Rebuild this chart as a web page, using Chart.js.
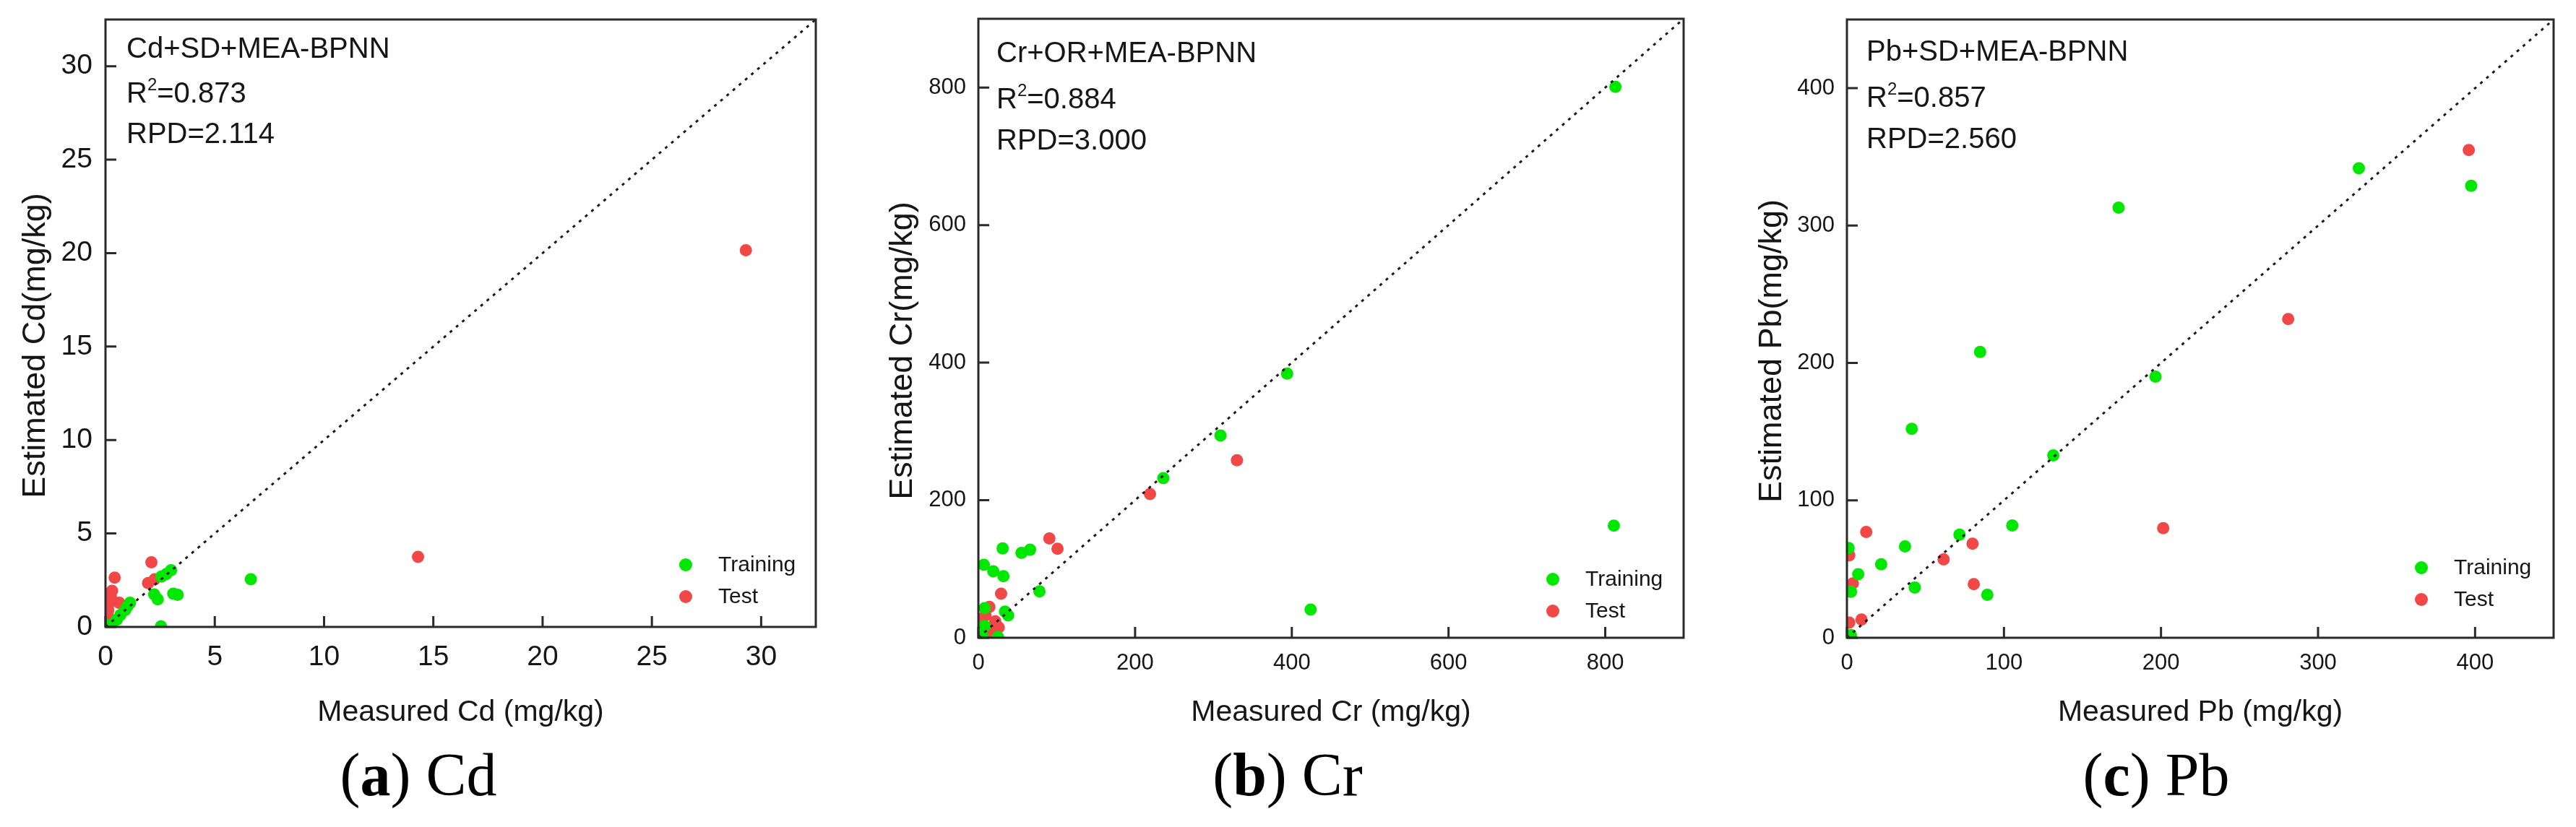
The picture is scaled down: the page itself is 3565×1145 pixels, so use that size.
<!DOCTYPE html>
<html><head><meta charset="utf-8">
<script src="https://cdn.jsdelivr.net/npm/chart.js@4.4.1/dist/chart.umd.min.js"></script>
<style>
html,body{margin:0;padding:0;background:#fff;width:3565px;height:1145px;overflow:hidden}
.panel{position:absolute;top:0;height:1145px}
.cap{position:absolute;top:1033px;font-family:'Liberation Serif','Times New Roman',serif;font-size:84px;line-height:80px;color:#000;white-space:nowrap;transform:translateX(-50%)}
</style></head><body>
<div class="panel" style="left:0;width:1180px"><canvas id="ca" width="1180" height="1145"></canvas></div>
<div class="panel" style="left:1180px;width:1185px"><canvas id="cb" width="1185" height="1145"></canvas></div>
<div class="panel" style="left:2365px;width:1200px"><canvas id="cc" width="1200" height="1145"></canvas></div>
<div class="cap" style="left:579px">(<b>a</b>) Cd</div>
<div class="cap" style="left:1782px">(<b>b</b>) Cr</div>
<div class="cap" style="left:2984px">(<b>c</b>) Pb</div>
<script>
// ---------- data (measured, estimated) ----------
const cdTraining = [[6.65,2.55],[3.1,1.78],[3.3,1.72],[2.23,1.74],[2.39,1.48],[2.56,2.7],[2.78,2.83],[3.0,3.03],[2.54,0.03],[1.12,1.29],[1.0,1.1],[0.9,0.9],[0.68,0.64],[0.52,0.39],[0.3,0.13],[0.15,0.1]];
const cdTest = [[29.3,20.15],[14.3,3.75],[2.1,3.46],[1.95,2.35],[2.25,2.55],[0.42,2.64],[0.3,1.93],[0.63,1.29],[0.19,1.3],[0.13,0.9],[0.13,0.52],[0.08,0.19],[0.25,1.6]];
const crTraining = [[813,801],[811,163],[394,384],[309,294],[236,232],[424,41],[78,67.5],[31,130],[55,123.5],[66,128],[7,106],[19,96.5],[32,89.5],[8,43],[34,38],[38,32.5],[8,17],[25,1],[5,3]];
const crTest = [[330,258],[219,209],[90.6,144.5],[101,129.4],[29,64],[14,45],[9,32.5],[21.5,24],[17,13],[26,15],[12,6],[5,28]];
const pbTraining = [[397.5,329],[326,341.7],[173,313],[84.8,208],[196.5,190],[41.3,152],[131.4,132.7],[105.3,81.7],[71.7,75],[37,66.5],[21.8,53.5],[7.2,46.3],[43.2,36.6],[89.4,31.3],[2.6,33.5],[1.1,65.3],[2.5,2]];
const pbTest = [[396,355],[281,232],[201.4,79.8],[12.3,77],[80,68.5],[61.6,57],[80.8,39],[3.8,39.6],[1.5,60],[1.5,11],[9.3,13.3]];
const axisMax = {Cd:32.5, Cr:900, Pb:450};
const tickStep = {Cd:5, Cr:200, Pb:100};
const modelNames = {Cd:'Cd+SD+MEA-BPNN', Cr:'Cr+OR+MEA-BPNN', Pb:'Pb+SD+MEA-BPNN'};
const r2Values = {Cd:'0.873', Cr:'0.884', Pb:'0.857'};
const rpdValues = {Cd:'2.114', Cr:'3.000', Pb:'2.560'};
const seriesNames = ['Training','Test'];

const GREEN = '#00e800', RED = '#f24747', INK = '#161616';
const FAM = "'Liberation Sans', Arial, sans-serif";
const toXY = a => a.map(p => ({x:p[0], y:p[1]}));

const framePlugin = {
  id:'frame',
  afterDatasetsDraw(chart, args, o){
    const {ctx, chartArea:a, scales:{x,y}} = chart;
    ctx.save();
    ctx.strokeStyle = '#2a2a2a'; ctx.lineWidth = 3;
    ctx.strokeRect(a.left, a.top, a.right-a.left, a.bottom-a.top);
    ctx.beginPath();
    x.ticks.forEach(t => { const p = x.getPixelForValue(t.value); ctx.moveTo(p, a.bottom); ctx.lineTo(p, a.bottom - o.tick); });
    y.ticks.forEach(t => { const p = y.getPixelForValue(t.value); ctx.moveTo(a.left, p); ctx.lineTo(a.left + o.tick, p); });
    ctx.stroke();
    // y-axis title (rotated, sits slightly below the plot centre as in the original)
    ctx.fillStyle = INK;
    ctx.save();
    ctx.translate(o.yTitleX, (a.top + a.bottom)/2 + o.yTitleDy);
    ctx.rotate(-Math.PI/2);
    ctx.font = `45px ${FAM}`; ctx.textAlign = 'center'; ctx.textBaseline = 'middle';
    ctx.fillText(o.yTitle, 0, 0);
    ctx.restore();
    // annotation
    ctx.textBaseline = 'alphabetic'; ctx.textAlign = 'left';
    ctx.font = `40px ${FAM}`;
    const x0 = a.left + o.textDx;
    ctx.fillText(o.lines[0], x0, a.top + o.textDy[0]);
    ctx.fillText('R', x0, a.top + o.textDy[1]);
    let w = ctx.measureText('R').width;
    ctx.font = `24px ${FAM}`;
    ctx.fillText('2', x0 + w, a.top + o.textDy[1] - 17);
    w += ctx.measureText('2').width;
    ctx.font = `40px ${FAM}`;
    ctx.fillText('=' + o.lines[1], x0 + w, a.top + o.textDy[1]);
    ctx.fillText('RPD=' + o.lines[2], x0, a.top + o.textDy[2]);
    // legend
    ctx.font = `30px ${FAM}`; ctx.textBaseline = 'middle';
    chart.data.datasets.filter(d => seriesNames.includes(d.label)).forEach((d, i) => {
      const cx = a.right + o.legDx, cy = a.bottom + o.legDy[i];
      ctx.fillStyle = d.backgroundColor;
      ctx.beginPath(); ctx.arc(cx, cy, 9, 0, Math.PI*2); ctx.fill();
      ctx.fillStyle = INK;
      ctx.fillText(d.label, cx + 45, cy + 1);
    });
    ctx.restore();
  }
};

function noPad(s){ s.paddingTop = 0; s.paddingBottom = 0; s.paddingLeft = 0; s.paddingRight = 0; }

function makePanel(id, el, train, test, g){
  const max = axisMax[el];
  new Chart(document.getElementById(id), {
    type:'scatter',
    data:{datasets:[
      {label:'1:1', type:'line', data:[{x:0,y:0},{x:max,y:max}], borderColor:'#1a1a1a', borderWidth:3, borderDash:[4,7.2], pointRadius:0, order:0, clip:0},
      {label:seriesNames[0], data:toXY(train), backgroundColor:GREEN, borderWidth:0, pointRadius:8.5, order:1, clip:0},
      {label:seriesNames[1], data:toXY(test), backgroundColor:RED, borderWidth:0, pointRadius:8.5, order:1, clip:0}
    ]},
    options:{
      responsive:false, animation:false, devicePixelRatio:1,
      layout:{autoPadding:false, padding:{left:0, top:g.top, right:g.right, bottom:g.padB}},
      plugins:{legend:{display:false}, tooltip:{enabled:false},
        frame:{tick:15, textDx:g.textDx, textDy:g.textDy, legDx:g.legDx, legDy:g.legDy,
               yTitle:`Estimated ${el}(mg/kg)`, yTitleX:g.yTitleX, yTitleDy:31,
               lines:[modelNames[el], r2Values[el], rpdValues[el]]}},
      scales:{
        x:{type:'linear', min:0, max:max,
           ticks:{stepSize:tickStep[el], includeBounds:false, padding:g.xPad, color:INK, font:{family:FAM, size:g.tickFont}},
           grid:{display:false, drawTicks:false}, border:{display:false},
           title:{display:true, text:`Measured ${el} (mg/kg)`, color:INK, font:{family:FAM, size:41}, padding:{top:0,bottom:0}},
           afterFit(s){ s.height = g.xH; noPad(s); }},
        y:{type:'linear', min:0, max:max,
           ticks:{stepSize:tickStep[el], includeBounds:false, padding:g.yPad, color:INK, font:{family:FAM, size:g.tickFont}},
           grid:{display:false, drawTicks:false}, border:{display:false},
           title:{display:false},
           afterFit(s){ s.width = g.yW; noPad(s); }}
      }
    },
    plugins:[framePlugin]
  });
}

makePanel('ca','Cd',cdTraining,cdTest,{top:27,right:1180-1129,padB:134,xH:1011-868,yW:146,xPad:19,yPad:18,tickFont:39,yTitleX:50,textDx:29,textDy:[53,115,171],legDx:-180,legDy:[-86,-42]});
makePanel('cb','Cr',crTraining,crTest,{top:26,right:1185-(2330-1180),padB:134,xH:1011-883,yW:1354-1180,xPad:17,yPad:17,tickFont:31,yTitleX:70,textDx:25,textDy:[60,124,181],legDx:-181,legDy:[-81,-37]});
makePanel('cc','Pb',pbTraining,pbTest,{top:27,right:1200-(3534-2365),padB:134,xH:1011-883,yW:2556-2365,xPad:17,yPad:17,tickFont:31,yTitleX:88,textDx:27,textDy:[57,121,178],legDx:-183,legDy:[-97,-53]});
</script>
</body></html>
